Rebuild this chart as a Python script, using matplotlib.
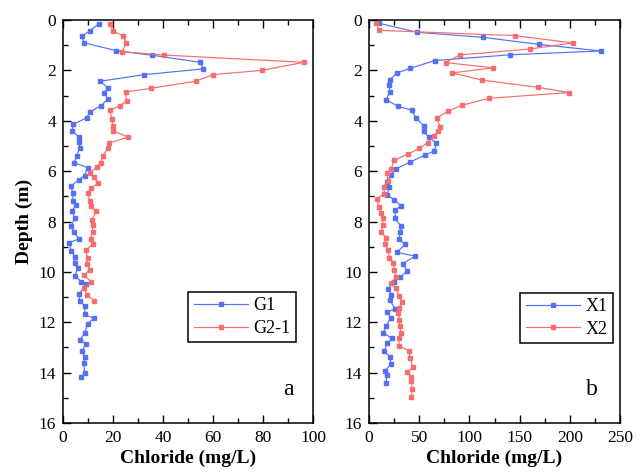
import matplotlib
matplotlib.use("Agg")
import matplotlib.pyplot as plt
from matplotlib.ticker import MultipleLocator

plt.rcParams['font.family'] = ['Liberation Serif', 'DejaVu Serif']

# panel a
g1_depth = [0.15, 0.44, 0.63, 0.9, 1.22, 1.4, 1.68, 1.94, 2.17, 2.43,
            2.69, 2.88, 3.15, 3.4, 3.65, 3.89, 4.14, 4.39, 4.64, 4.85,
            5.1, 5.38, 5.66, 5.86, 6.18, 6.35, 6.61, 6.88, 7.18, 7.35,
            7.6, 7.86, 8.17, 8.43, 8.69, 8.84, 9.17, 9.42, 9.64, 9.85,
            10.17, 10.39, 10.49, 10.89, 11.14, 11.36, 11.69, 11.85, 12.05, 12.43,
            12.69, 12.87, 13.15, 13.39, 13.63, 14.0, 14.19]
g1_cl = [14.3, 10.6, 7.6, 8.3, 21.3, 35.7, 54.9, 56.1, 32.5, 14.9,
         17.9, 16.5, 17.9, 15.1, 10.8, 9.4, 4.1, 3.7, 6.2, 6.5,
         6.6, 5.5, 4.5, 9.8, 8.6, 6.2, 3.1, 4.1, 3.9, 5.2,
         3.5, 4.8, 3.3, 4.5, 6.4, 2.4, 3.3, 4.8, 4.6, 5.8,
         4.8, 7.3, 9.0, 6.5, 6.6, 8.8, 8.7, 12.4, 9.8, 8.7,
         6.8, 9.1, 7.6, 8.8, 8.3, 8.7, 7.1]

g21_depth = [0.15, 0.44, 0.62, 0.9, 1.26, 1.39, 1.68, 2.0, 2.17, 2.43,
             2.71, 2.86, 3.21, 3.4, 3.58, 3.92, 4.19, 4.39, 4.65, 4.88,
             5.1, 5.38, 5.66, 5.85, 6.06, 6.24, 6.47, 6.68, 6.88, 7.18,
             7.38, 7.6, 7.94, 8.13, 8.4, 8.69, 8.9, 9.14, 9.44, 9.67,
             9.91, 10.14, 10.39, 10.64, 10.9, 11.15]
g21_cl = [18.9, 20, 24, 25.3, 23.7, 40.2, 96.4, 79.5, 60, 53.1,
          35.3, 25, 25.4, 22.9, 18.6, 19.7, 19.8, 19.8, 26.1, 18.5,
          18.0, 15.9, 15, 13.5, 10.6, 12.4, 14.1, 11.2, 9.8, 10.8,
          11, 13.1, 11.6, 11.9, 11.8, 11, 11.9, 9, 9.8, 9.6,
          10.6, 8.4, 11.3, 8.3, 9.5, 12.5]

# panel b
x1_depth = [0.13, 0.49, 0.69, 0.97, 1.23, 1.38, 1.61, 1.92, 2.1, 2.37,
            2.59, 2.84, 3.17, 3.43, 3.58, 3.88, 4.19, 4.42, 4.65, 4.9,
            5.2, 5.36, 5.63, 5.91, 6.14, 6.43, 6.65, 6.94, 7.15, 7.38,
            7.54, 7.88, 8.19, 8.4, 8.69, 8.91, 9.22, 9.38, 9.67, 9.97,
            10.19, 10.4, 10.68, 10.9, 11.12, 11.47, 11.6, 11.83, 12.13, 12.43,
            12.64, 12.83, 13.15, 13.37, 13.66, 13.93, 14.1, 14.42]
x1_cl = [10, 48.3, 114, 169.7, 231.3, 140.7, 65.7, 40.7, 28.3, 20.7,
         20.3, 20.7, 17.3, 29, 42.7, 46.7, 54.3, 54.3, 59.7, 67,
         65, 56, 41.3, 27, 21.7, 18.3, 19.7, 18.3, 25.3, 32,
         26, 26, 32, 31.3, 30, 36, 27.7, 46, 33.7, 38,
         31.3, 24.5, 19, 22.3, 20.7, 26, 18, 21.7, 17, 14.3,
         23, 18.3, 15, 20.7, 22, 15.7, 17.7, 17]

x2_depth = [0.13, 0.41, 0.62, 0.91, 1.15, 1.39, 1.69, 1.9, 2.1, 2.39,
            2.67, 2.88, 3.11, 3.39, 3.61, 3.9, 4.25, 4.4, 4.6, 4.87,
            5.1, 5.32, 5.56, 5.93, 6.08, 6.38, 6.63, 6.89, 7.1, 7.42,
            7.67, 7.88, 8.12, 8.4, 8.64, 8.9, 9.12, 9.43, 9.66, 9.92,
            10.21, 10.46, 10.66, 10.96, 11.2, 11.42, 11.65, 11.9, 12.14, 12.41,
            12.64, 12.94, 13.13, 13.43, 13.79, 13.98, 14.17, 14.35, 14.64, 14.96]
x2_cl = [7, 10.3, 145, 203.3, 160.7, 90.3, 76.3, 123.7, 83, 113,
         168, 199, 119.3, 92.3, 79, 67.3, 71, 68.3, 65, 58.3,
         50, 39, 25, 22, 17.7, 18.7, 14.7, 15.3, 7.7, 9.7,
         12.3, 14, 13.7, 12.3, 16.5, 16, 18.7, 20.3, 24.3, 25.3,
         26.7, 22.3, 27, 29.7, 33.3, 30.3, 29.3, 30.3, 30.7, 31.7,
         30, 29.7, 39.7, 41, 43.7, 38, 42, 42, 43.3, 42.3]

blue = '#5471f6'
red = '#f76d6d'

fig = plt.figure(figsize=(6.42, 4.76), dpi=100)
ax1 = fig.add_axes([63 / 642, 53 / 476, 250 / 642, 403 / 476])
ax2 = fig.add_axes([369 / 642, 53 / 476, 251 / 642, 403 / 476])


def style(ax, xmax, major, minor):
    ax.set_xlim(0, xmax)
    ax.set_ylim(16, 0)
    ax.xaxis.set_major_locator(MultipleLocator(major))
    ax.xaxis.set_minor_locator(MultipleLocator(minor))
    ax.yaxis.set_major_locator(MultipleLocator(2))
    ax.yaxis.set_minor_locator(MultipleLocator(1))
    ax.tick_params(which='both', direction='in', top=True, right=False,
                   labelsize=12.5, pad=5, width=1)
    ax.tick_params(which='major', length=6)
    ax.tick_params(which='minor', length=3.5)
    for s in ax.spines.values():
        s.set_linewidth(1.1)
    ax.set_xlabel('Chloride (mg/L)', fontsize=14, fontweight='bold', labelpad=3)


style(ax1, 100, 20, 10)
style(ax2, 250, 50, 25)

kw = dict(marker='s', markersize=3.1, linewidth=0.85)
ax1.plot(g1_cl, g1_depth, color=blue, label='G1', **kw)
ax1.plot(g21_cl, g21_depth, color=red, label='G2-1', **kw)
ax2.plot(x1_cl, x1_depth, color=blue, label='X1', **kw)
ax2.plot(x2_cl, x2_depth, color=red, label='X2', **kw)

ax1.set_ylabel('Depth (m)', fontsize=14, fontweight='bold', labelpad=4)

for ax, anchor in ((ax1, (0.932, 0.325)), (ax2, (0.972, 0.323))):
    leg = ax.legend(loc='upper right', bbox_to_anchor=anchor, fontsize=13,
                    fancybox=False, edgecolor='black', framealpha=1,
                    borderpad=0.3, handlelength=3.0, labelspacing=0.3,
                    borderaxespad=0, handletextpad=0.3)
    leg.get_frame().set_linewidth(1.1)

ax1.text(0.9, 0.082, 'a', transform=ax1.transAxes, fontsize=17,
         ha='center', va='center')
ax2.text(0.888, 0.082, 'b', transform=ax2.transAxes, fontsize=17,
         ha='center', va='center')

fig.savefig('out.png', dpi=100)
